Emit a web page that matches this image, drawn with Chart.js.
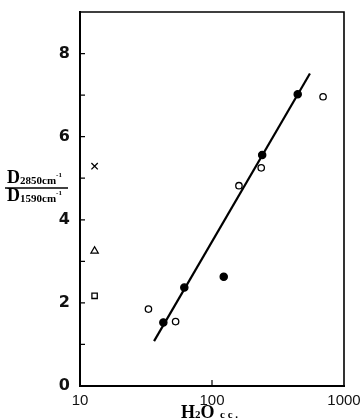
<!DOCTYPE html>
<html>
<head>
<meta charset="utf-8">
<script src="https://cdn.jsdelivr.net/npm/chart.js@4/dist/chart.umd.min.js"></script>
<style>
    html, body { margin: 0; padding: 0; background: #fff; }
    #wrap { width: 363px; height: 420px; }
</style>
</head>
<body>
<div id="wrap"><canvas id="graphe"></canvas></div>
<script>
// valeurs (x = H2O en cc, y = D2850/D1590)
const ouvertsX = [33, 53, 160, 236, 694];
const ouvertsY = [1.85, 1.55, 4.82, 5.25, 6.96];
const pleinsX = [42.8, 61.7, 122.7, 240, 446];
const pleinsY = [1.53, 2.37, 2.63, 5.56, 7.02];
const croixX = [12.9];
const croixY = [5.29];
const triangleX = [12.9];
const triangleY = [3.25];
const carreX = [12.9];
const carreY = [2.17];
const droiteX = [36.4, 552];
const droiteY = [1.08, 7.52];
const ticksX = [10, 100, 1000];
const ticksYLabels = [0, 2, 4, 6, 8];

function points(xs, ys) {
    return xs.map((x, i) => ({ x: x, y: ys[i] }));
}

function marqueur(label, xs, ys, style, rayon, rempli) {
    return {
        label: label,
        data: points(xs, ys),
        pointStyle: style,
        pointRadius: rayon,
        pointBackgroundColor: rempli ? '#000' : '#fff',
        pointBorderColor: '#000',
        pointBorderWidth: 1.3,
        showLine: false
    };
}

const SERIF = '"Liberation Serif", "DejaVu Serif", serif';

// petit texte composé : morceaux [texte, police, decalage vertical]
function ecrire(ctx, x, base, morceaux) {
    let cx = x;
    for (const [txt, font, dy] of morceaux) {
        ctx.font = font;
        ctx.fillText(txt, cx, base + dy);
        cx += ctx.measureText(txt).width;
    }
    return cx;
}

const cadre = {
    id: 'cadre',
    afterDraw(chart) {
        const ctx = chart.ctx;
        const a = chart.chartArea;
        const sx = chart.scales.x;
        const sy = chart.scales.y;
        ctx.save();
        ctx.strokeStyle = '#000';
        ctx.fillStyle = '#000';

        // haut et droite du cadre
        ctx.lineWidth = 1.6;
        ctx.beginPath();
        ctx.moveTo(a.left, a.top);
        ctx.lineTo(a.right, a.top);
        ctx.lineTo(a.right, a.bottom);
        ctx.stroke();

        // graduations vers l'interieur
        ctx.lineWidth = 1.2;
        ctx.beginPath();
        for (let v = 1; v <= 8; v++) {
            const py = sy.getPixelForValue(v);
            ctx.moveTo(a.left, py);
            ctx.lineTo(a.left + 5, py);
        }
        const px = sx.getPixelForValue(100);
        ctx.moveTo(px, a.bottom);
        ctx.lineTo(px, a.bottom - 6);
        ctx.stroke();

        // titre axe y : fraction
        ctx.textAlign = 'left';
        ctx.textBaseline = 'alphabetic';
        ecrire(ctx, 7, 183, [
            ['D', 'bold 18px ' + SERIF, 0],
            ['2850cm', 'bold 11px ' + SERIF, 1],
            ['-1', 'bold 7px ' + SERIF, -6]
        ]);
        ctx.lineWidth = 1.5;
        ctx.beginPath();
        ctx.moveTo(5, 188);
        ctx.lineTo(68, 188);
        ctx.stroke();
        ecrire(ctx, 7, 201, [
            ['D', 'bold 18px ' + SERIF, 0],
            ['1590cm', 'bold 11px ' + SERIF, 1],
            ['-1', 'bold 7px ' + SERIF, -6]
        ]);

        // titre axe x
        ecrire(ctx, 181, 418, [
            ['H', 'bold 18px ' + SERIF, 0],
            ['2', 'bold 11px ' + SERIF, 0],
            ['O', 'bold 18px ' + SERIF, 0],
            ['  c c .', 'bold 11px ' + SERIF, 0]
        ]);
        ctx.restore();
    }
};

const ctx = document.getElementById('graphe').getContext('2d');
const graphe = new Chart(ctx, {
    type: 'scatter',
    data: {
        datasets: [
            {
                label: 'droite',
                type: 'line',
                data: points(droiteX, droiteY),
                borderColor: '#000',
                borderWidth: 2.2,
                pointRadius: 0,
                fill: false
            },
            marqueur('ouverts', ouvertsX, ouvertsY, 'circle', 3.2, false),
            marqueur('pleins', pleinsX, pleinsY, 'circle', 3.6, true),
            marqueur('croix', croixX, croixY, 'crossRot', 4.5, false),
            marqueur('triangle', triangleX, triangleY, 'triangle', 4.2, false),
            marqueur('carre', carreX, carreY, 'rect', 3.8, false)
        ]
    },
    options: {
        responsive: true,
        maintainAspectRatio: false,
        animation: false,
        layout: { padding: { top: 12, right: 19, left: 0, bottom: 0 } },
        plugins: {
            legend: { display: false },
            tooltip: { enabled: false }
        },
        scales: {
            x: {
                type: 'logarithmic',
                min: 10,
                max: 1000,
                afterBuildTicks(scale) {
                    scale.ticks = ticksX.map(v => ({ value: v }));
                },
                afterFit(scale) {
                    scale.height = 34;
                    scale.paddingLeft = 0;
                    scale.paddingRight = 0;
                },
                grid: { display: false, drawTicks: false },
                border: { display: true, color: '#000', width: 2 },
                ticks: {
                    padding: 6,
                    color: '#111',
                    font: { family: '"Liberation Sans", Arial, sans-serif', size: 15 },
                    maxRotation: 0,
                    callback: v => String(v)
                }
            },
            y: {
                min: 0,
                max: 9,
                afterFit(scale) {
                    scale.width = 80;
                    scale.paddingTop = 0;
                    scale.paddingBottom = 0;
                },
                grid: { display: false, drawTicks: false },
                border: { display: true, color: '#000', width: 2 },
                ticks: {
                    stepSize: 1,
                    padding: 10,
                    color: '#111',
                    font: { family: '"DejaVu Sans", sans-serif', size: 16, weight: 'bold' },
                    callback: v => ticksYLabels.includes(v) ? String(v) : ''
                }
            }
        }
    },
    plugins: [cadre]
});
</script>
</body>
</html>
